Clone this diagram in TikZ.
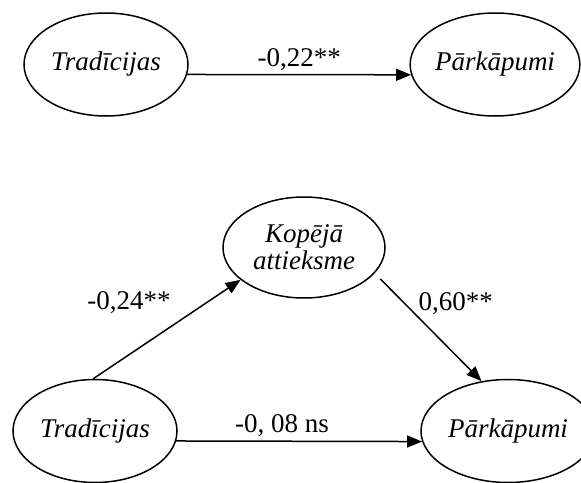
\documentclass[tikz,border=0pt]{standalone}
\usepackage{fontspec}
\setmainfont{Liberation Serif}
\usetikzlibrary{shapes.geometric,arrows.meta}

\begin{document}
\begin{tikzpicture}[x=1pt,y=-1pt,
  var/.style={draw,ellipse,line width=1.5pt,inner sep=0pt,minimum width=164pt,minimum height=103pt,font=\fontsize{27}{27}\selectfont\itshape,align=center},
  eff/.style={line width=1.5pt,-{Triangle[length=15pt,width=12pt]}},
  coef/.style={font=\fontsize{27}{27}\selectfont}]
\useasboundingbox (0,0) rectangle (581,482);
% model without mediator
\node[var] (tradA) at (106,64.5) {Tradīcijas};
\node[var] (parkA) at (495,64.5) {Pārkāpumi};
\draw[eff] (tradA.-7.5) -- (parkA.187.5) node[coef,midway,above] {-0,22**};
% model with mediator
\node[var,minimum width=162pt,minimum height=101pt] (kop) at (304,247.5) {Kopējā\\attieksme};
\node[var] (tradB) at (95,431) {Tradīcijas};
\node[var,minimum width=174pt] (parkB) at (508,431) {Pārkāpumi};
\draw[eff] (tradB.92) -- (kop.207) node[coef,pos=0.77,left=32pt] {-0,24**};
\draw[eff,shorten <=8pt] (kop.-20) -- (parkB.118) node[coef,pos=0.28,right=10pt] {0,60**};
\draw[eff] (tradB.-7.8) -- (parkB.187.4) node[coef,pos=0.43,above] {-0, 08 ns};
\end{tikzpicture}
\end{document}
